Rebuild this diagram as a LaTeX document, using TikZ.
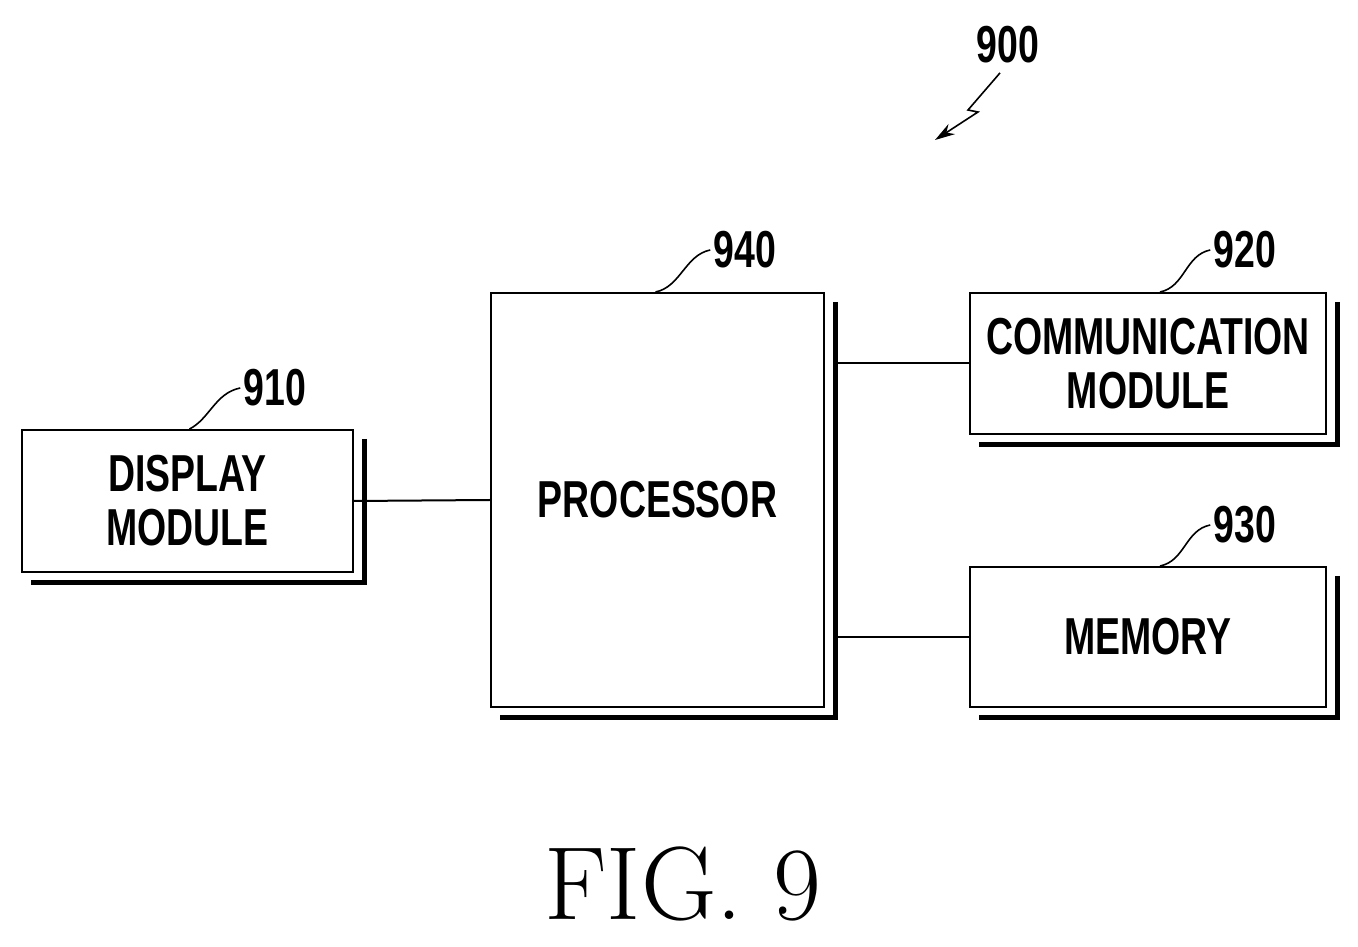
\documentclass[tikz,border=0pt]{standalone}
\usepackage{fontspec}
\usepackage{tikz}
\usetikzlibrary{arrows.meta}
\newfontfamily\labelfont[FakeStretch=0.72]{Liberation Sans}
\newcommand{\boxShift}[0]{10}

\begin{document}
\begin{tikzpicture}[x=1pt,y=1pt]
  \tikzset{block/.style={draw,line width=2pt,fill=white,align=center,
      font=\labelfont\bfseries\fontsize{52}{54}\selectfont},
    shadowline/.style={line width=5pt},
    leader/.style={line width=1.6pt},
    refnum/.style={font=\labelfont\bfseries\fontsize{52}{54}\selectfont}}
  \useasboundingbox (0,0) rectangle (1358,946);
  % blocks
  \node[block,minimum width=331,minimum height=142] (display) at (187.5,445) {DISPLAY\\MODULE};
  \node[block,minimum width=333,minimum height=414] (proc) at (657.5,446) {PROCESSOR};
  \node[block,minimum width=356,minimum height=141] (comm) at (1148,582.5) {COMMUNICATION\\MODULE};
  \node[block,minimum width=356,minimum height=140] (mem) at (1148,309) {MEMORY};
  % shadows
  \foreach \n in {display,proc,comm,mem}{
    \draw[shadowline] ([shift={(\boxShift,-\boxShift)}]\n.north east)
      -- ([shift={(\boxShift,-\boxShift)}]\n.south east)
      -- ([shift={(\boxShift,-\boxShift)}]\n.south west);
  }
  % connectors
  \draw[line width=2pt] (display.east) -- (proc.west);
  \coordinate (pc) at ([xshift=\boxShift]proc.east |- comm.west);
  \coordinate (pm) at ([xshift=\boxShift]proc.east |- mem.west);
  \draw[line width=2pt] (pc) -- (comm.west);
  \draw[line width=2pt] (pm) -- (mem.west);
  % reference numbers
  \node[refnum] (n910) at (275,558) {910};
  \node[refnum] (n940) at (745,696) {940};
  \node[refnum] (n920) at (1245,696) {920};
  \node[refnum] (n930) at (1245,421) {930};
  \node[refnum] (n900) at (1008,901) {900};
  \draw[leader] ([xshift=2]display.north) .. controls +(20,10) and +(-25,-5) .. (n910.west);
  \draw[leader] ([xshift=-2]proc.north) .. controls +(25,5) and +(-25,-5) .. (n940.west);
  \draw[leader] ([xshift=12]comm.north) .. controls +(25,5) and +(-25,-5) .. (n920.west);
  \draw[leader] ([xshift=12]mem.north) .. controls +(25,5) and +(-25,-5) .. (n930.west);
  \coordinate (z1) at (968,836);
  \coordinate (z2) at (978,834);
  \coordinate (tip) at (935,806);
  \draw[leader,-{Stealth[length=20pt,width=12pt]}] ([xshift=-8,yshift=-6]n900.south) -- (z1) -- (z2) -- (tip);
  % caption
  \node[font=\fontsize{104}{110}\selectfont] (fig) at (683,62) {FIG. 9};
\end{tikzpicture}
\end{document}
